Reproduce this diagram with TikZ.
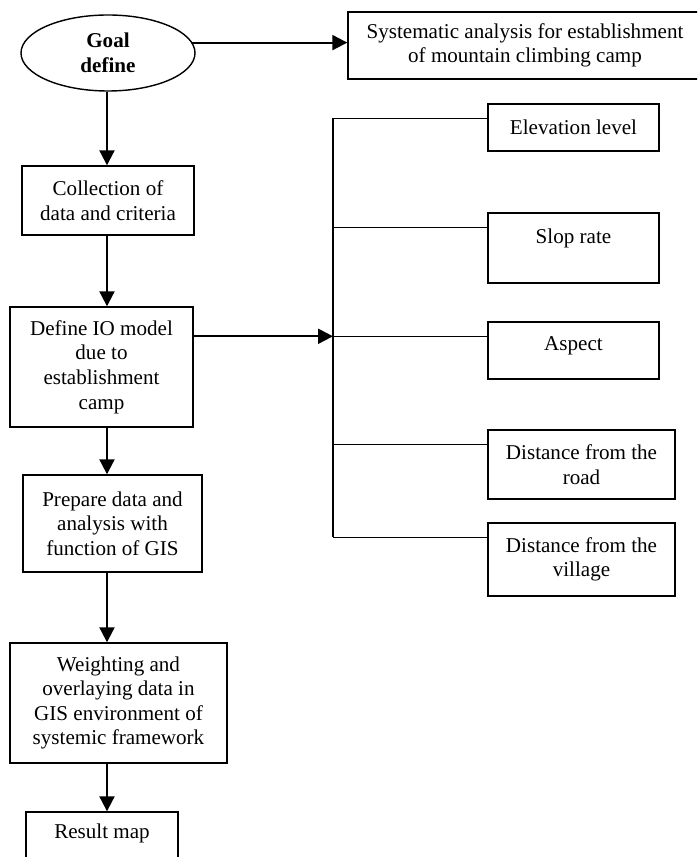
\documentclass[tikz,border=0pt]{standalone}
\usepackage{fontspec}
\setmainfont{Liberation Serif}
\usetikzlibrary{positioning,arrows.meta,shapes.geometric}

\newcommand{\unitpx}{0.02cm}

\begin{document}
\begin{tikzpicture}[x = 0.02cm, y = -0.02cm,
                    >={Triangle[length = 8.5pt, width = 8.5pt]},
                    font = \fontsize{12}{14}\selectfont,
                    goal/.style = {ellipse,
                                   draw,
                                   line width = 0.8pt,
                                   inner sep = 0pt,
                                   align = center,
                                   font = \fontsize{12}{14}\selectfont\bfseries},
                    proc/.style = {rectangle,
                                   draw,
                                   line width = 0.8pt,
                                   inner sep = 0pt,
                                   align = center},
                    fact/.style = {proc,
                                   minimum width = 171*\unitpx},
                    flow/.style = {->, line width = 1.2pt},
                    link/.style = {line width = 0.9pt}]

\useasboundingbox (0,0) rectangle (697,857);
\clip (0,0) rectangle (697,857);

% main column
\node[goal, minimum width = 174*\unitpx, minimum height = 76*\unitpx] (G) at (108,53) {Goal\\define};
\node[proc, minimum width = 354*\unitpx, minimum height = 67*\unitpx] (S) at (525,45.5)
     {Systematic analysis for establishment\\of mountain climbing camp};
\node[proc, minimum width = 172*\unitpx, minimum height = 69*\unitpx] (C) at (108,200.5)
     {Collection of\\data and criteria};
\node[proc, minimum width = 183*\unitpx, minimum height = 120*\unitpx] (D) at (101.5,367)
     {Define IO model\\due to\\establishment\\camp};
\node[proc, minimum width = 179*\unitpx, minimum height = 97*\unitpx] (P) at (112.5,523.5)
     {Prepare data and\\analysis with\\function of GIS};
\node[proc, minimum width = 217*\unitpx, minimum height = 120*\unitpx] (W) at (118.5,703)
     {Weighting and\\overlaying data in\\GIS environment of\\systemic framework};
\node[proc, minimum width = 152*\unitpx, minimum height = 62*\unitpx] (R) at (102,843)
     {Result map\\~};

% criteria
\node[fact, minimum height = 47*\unitpx] (F1) at (573.5,127.5) {Elevation level};
\node[fact, minimum height = 70*\unitpx] (F2) at (573.5,248) {Slop rate\\~};
\node[fact, minimum height = 57*\unitpx] (F3) at (573.5,350.5) {Aspect\\[-6pt]~};
\node[fact, minimum width = 187*\unitpx, minimum height = 69*\unitpx] (F4) at (581.5,464.5)
     {Distance from the\\road};
\node[fact, minimum width = 187*\unitpx, minimum height = 73*\unitpx] (F5) at (581.5,559.5)
     {Distance from the\\village};

\coordinate (spine) at (107,0);
\coordinate (bus) at (333,0);

\draw[flow] (G.7.5) -- (G.7.5 -| S.west);
\foreach \a/\b in {G/C, C/D, D/P, P/W, W/R}
  \draw[flow] (spine |- \a.south) -- (spine |- \b.north);

\foreach \f in {F1,F2,F3,F4,F5} {
  \coordinate (\f-in) at ([yshift = -15*\unitpx]\f.north west);
  \draw[link] (\f-in) -- (\f-in -| bus);
}
\draw[link] (F1-in -| bus) -- (F5-in -| bus);
\draw[flow] (D.east |- F3-in) -- (F3-in -| bus);

\end{tikzpicture}
\end{document}
